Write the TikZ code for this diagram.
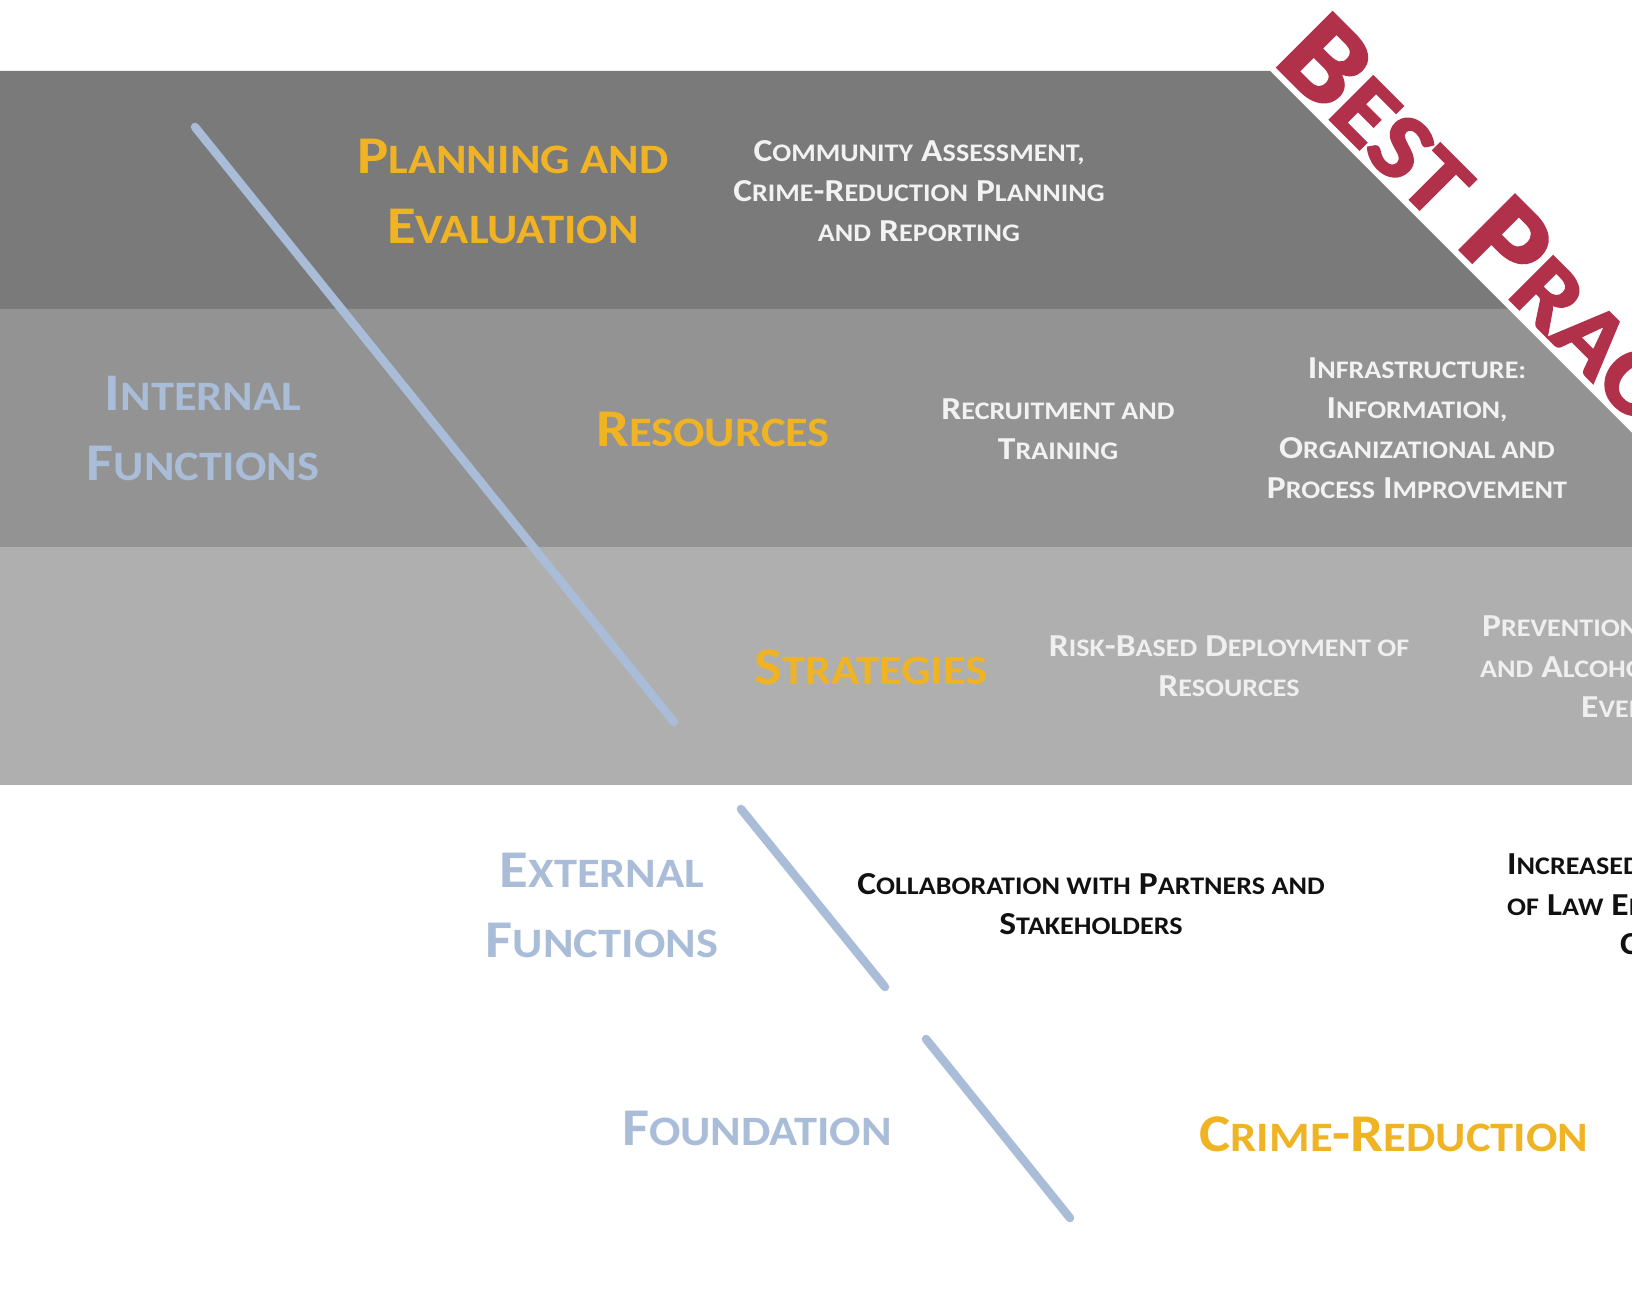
\documentclass[tikz,border=0pt]{standalone}
\usepackage{fontspec}
\setmainfont{Carlito}[FakeStretch=1.11]
\newfontfamily\bannerfont{Carlito Bold}[FakeStretch=1.12, FakeBold=2.2]
\definecolor{bandtop}{HTML}{7A7A7A}
\definecolor{bandmid}{HTML}{939393}
\definecolor{bandlow}{HTML}{AFAFAF}
\definecolor{gold}{HTML}{F0B323}
\definecolor{steel}{HTML}{A9BCD8}
\definecolor{crimson}{HTML}{B1304A}
\definecolor{paper}{HTML}{F2F2F2}
\definecolor{ink}{HTML}{111111}
% hand-made small capitals: the following letters are set smaller
\makeatletter
\newdimen\smcdim
\newcommand\smc[1]{{\smcdim=\f@size pt\smcdim=0.79\smcdim\fontsize{\strip@pt\smcdim}{\f@baselineskip}\selectfont #1}}
\makeatother
\begin{document}
\begin{tikzpicture}[x=1pt,y=-1pt,
  big/.style={font=\bfseries\fontsize{53}{70}\selectfont, align=center, inner sep=0pt},
  small/.style={font=\bfseries\fontsize{32}{40}\selectfont, align=center, inner sep=0pt},
  title/.style={big, text=gold},
  group/.style={big, text=steel},
  item/.style={small, text=paper},
  itemlow/.style={small, text=paper!95!bandlow},
  itemblack/.style={small, text=ink},
  stroke/.style={draw=steel, line width=8.5pt, line cap=round}]
\useasboundingbox (0,0) rectangle (1632,1305);
\fill[white] (0,0) rectangle (1632,1305);
\begin{scope}
\clip (0,0) rectangle (1632,1305);
% the three bands, cut by the diagonal on the right
\fill[bandtop] (0,71) -- (1270,71) -- (1508,309) -- (0,309) -- cycle;
\fill[bandmid] (0,309) -- (1508,309) -- (1632,433) -- (1632,547) -- (0,547) -- cycle;
\fill[bandlow] (0,547) rectangle (1632,785);

% diagonal strokes
\draw[stroke] (195,127) -- (674,722);
\draw[stroke] (741,809) -- (885,987);
\draw[stroke] (926,1039) -- (1070,1218);

% banner along the diagonal
\node[font=\bannerfont\fontsize{120}{120}\selectfont, text=crimson, inner sep=0pt,
      anchor=base west, rotate=-45] (banner) at (1272,62)
  {B\smc{EST} P\smc{RACTICES}};

% row 1
\node[title] (plan) at (513,191) {P\smc{LANNING AND}\\E\smc{VALUATION}};
\node[item] (assess) at (919,191)
  {C\smc{OMMUNITY} A\smc{SSESSMENT,}\\C\smc{RIME}-R\smc{EDUCTION} P\smc{LANNING}\\\smc{AND} R\smc{EPORTING}};

% row 2
\node[group] (internal) at (203,428) {I\smc{NTERNAL}\\F\smc{UNCTIONS}};
\node[title] (res) at (713,429) {R\smc{ESOURCES}};
\node[item] (recruit) at (1058,429) {R\smc{ECRUITMENT AND}\\T\smc{RAINING}};
\node[item] (infra) at (1417,428)
  {I\smc{NFRASTRUCTURE:}\\I\smc{NFORMATION,}\\O\smc{RGANIZATIONAL AND}\\P\smc{ROCESS} I\smc{MPROVEMENT}};

% row 3
\node[title] (strat) at (871,667) {S\smc{TRATEGIES}};
\node[itemlow] (risk) at (1229,666) {R\smc{ISK}-B\smc{ASED} D\smc{EPLOYMENT OF}\\R\smc{ESOURCES}};
\node[itemlow, anchor=west] (prevA) at (1482,626) {P\smc{REVENTION OF} D\smc{RUG}};
\node[itemlow, anchor=west] (prevB) at (1480,667) {\smc{AND} A\smc{LCOHOL}-R\smc{ELATED}};
\node[itemlow, anchor=west] (prevC) at (1581,707) {E\smc{VENTS}};

% external row
\node[group] (external) at (602,905) {E\smc{XTERNAL}\\F\smc{UNCTIONS}};
\node[itemblack] (collab) at (1091,904) {C\smc{OLLABORATION WITH} P\smc{ARTNERS AND}\\S\smc{TAKEHOLDERS}};
\node[itemblack, anchor=west] (incA) at (1507,864) {I\smc{NCREASED} T\smc{RUST}};
\node[itemblack, anchor=west] (incB) at (1507,905) {\smc{OF} L\smc{AW} E\smc{NFORCEMENT}};
\node[itemblack, anchor=west] (incC) at (1620,944) {C\smc{OMMUNITY}};

% foundation row
\node[group] (found) at (757,1128) {F\smc{OUNDATION}};
\node[title] (crime) at (1394,1134) {C\smc{RIME}-R\smc{EDUCTION}};
\end{scope}
\end{tikzpicture}
\end{document}
